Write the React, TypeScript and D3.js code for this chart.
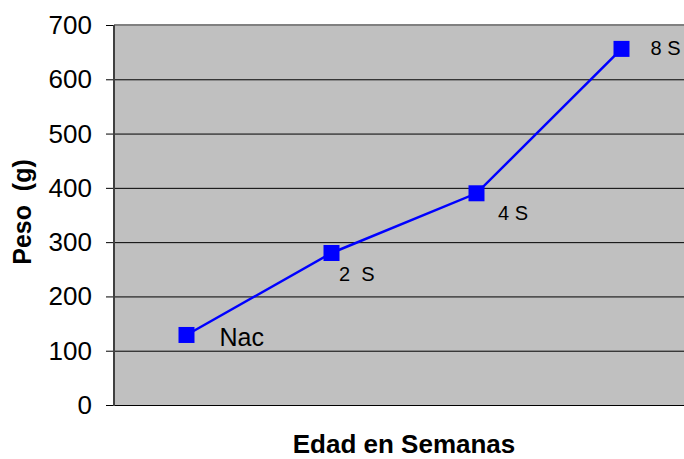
import React from "react";
import * as d3 from "d3";

const categories = ["Nac", "2  S", "4 S", "8 S"];
const weights = [129, 280, 390, 656];
const yTicks = [0, 100, 200, 300, 400, 500, 600, 700];

export default function App() {
  const W = 684, H = 459;
  const left = 114, right = 694, top = 25, bottom = 405;
  const x = d3.scaleBand<string>().domain(categories).range([left, right]);
  const y = d3.scaleLinear().domain([0, 700]).range([bottom, top]);
  const cx = (c: string) => (x(c) as number) + x.bandwidth() / 2;
  const line = d3.line<number>().x((_, i) => cx(categories[i])).y((d) => y(d));
  const labelOff = [
    { dx: 33, dy: 11, size: 25 },
    { dx: 7.5, dy: 28, size: 20 },
    { dx: 21.5, dy: 27, size: 20 },
    { dx: 29, dy: 6, size: 20 },
  ];
  return (
    <svg width={W} height={H} style={{ position: "absolute", left: 0, top: 0 }} fontFamily="Arial, 'Liberation Sans', sans-serif">
      <rect x={0} y={0} width={W} height={H} fill="#fff" />
      <rect x={left} y={top} width={W - left} height={bottom - top} fill="#C0C0C0" />
      {yTicks.map((t) => (
        <g key={t}>
          {t > 0 && t < 700 && <line x1={left} x2={W} y1={y(t) + 0.5} y2={y(t) + 0.5} stroke="#000" strokeWidth={1} />}
          <line x1={106} x2={left} y1={y(t) + 0.5} y2={y(t) + 0.5} stroke="#000" strokeWidth={1} />
          <text x={92} y={y(t) + 9} textAnchor="end" fontSize={26} fill="#000">{t}</text>
        </g>
      ))}
      <line x1={left} x2={W} y1={top} y2={top} stroke="#808080" strokeWidth={2} />
      <line x1={left} x2={W} y1={bottom + 0.5} y2={bottom + 0.5} stroke="#000" strokeWidth={1} />
      <line x1={left} x2={left} y1={top} y2={bottom + 1} stroke="#404040" strokeWidth={2} />
      <path d={line(weights) ?? ""} fill="none" stroke="#0000FF" strokeWidth={2.5} />
      {weights.map((v, i) => (
        <rect key={i} x={cx(categories[i]) - 8} y={y(v) - 8} width={16} height={16} fill="#0000FF" />
      ))}
      {weights.map((v, i) => (
        <text key={"l" + i} x={cx(categories[i]) + labelOff[i].dx} y={y(v) + labelOff[i].dy} fontSize={labelOff[i].size} fill="#000" style={{ whiteSpace: "pre" }}>{categories[i]}</text>
      ))}
      <text x={404} y={453} textAnchor="middle" fontSize={26} fontWeight="bold" fill="#000">Edad en Semanas</text>
      <text transform={`translate(31,212) rotate(-90)`} textAnchor="middle" fontSize={25} fontWeight="bold" fill="#000" style={{ whiteSpace: "pre" }}>Peso  (g)</text>
    </svg>
  );
}
